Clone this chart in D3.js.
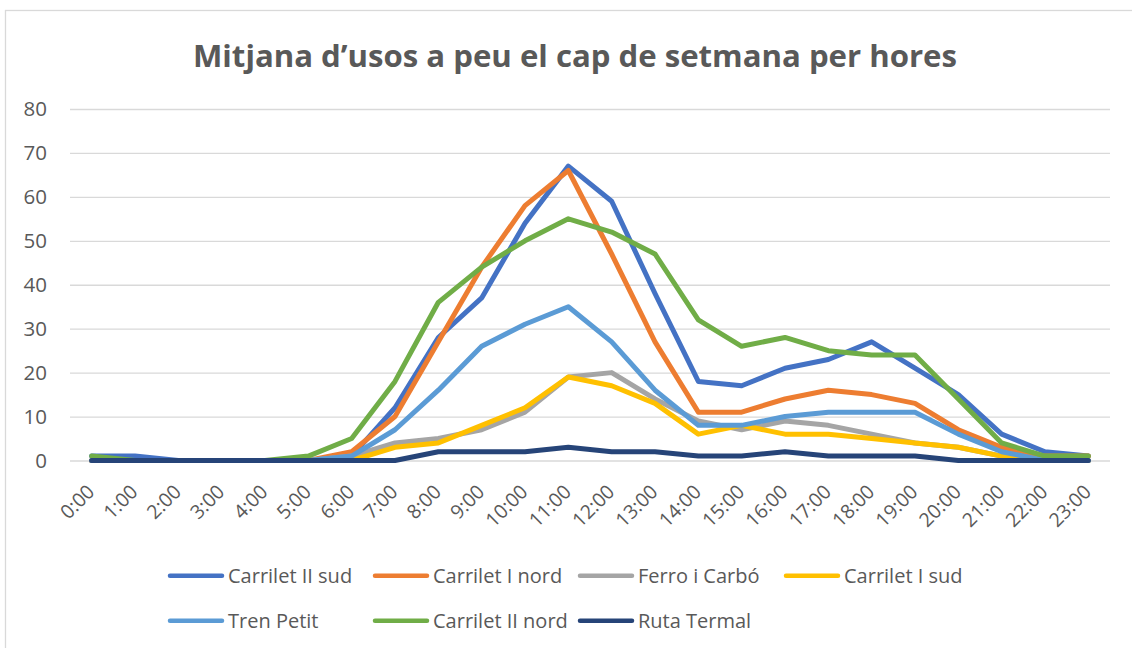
<!DOCTYPE html>
<html>
<head>
<meta charset="utf-8">
<script src="https://cdn.jsdelivr.net/npm/d3@7"></script>
<style>
  body { margin: 0; background: #fff; }
  text { font-family: 'Open Sans', sans-serif; fill: #595959; }
</style>
</head>
<body>
<svg id="chart" width="1132" height="648"></svg>
<script>
// hours on the x axis
var hours = ['0:00','1:00','2:00','3:00','4:00','5:00','6:00','7:00','8:00','9:00','10:00','11:00',
             '12:00','13:00','14:00','15:00','16:00','17:00','18:00','19:00','20:00','21:00','22:00','23:00'];

var carriletIISud  = [1,1,0,0,0,0,1,12,28,37,54,67,59,38,18,17,21,23,27,21,15,6,2,1];
var carriletINord  = [0,0,0,0,0,0,2,10,27,44,58,66,47,27,11,11,14,16,15,13,7,3,1,1];
var ferroICarbo    = [0,0,0,0,0,0,1,4,5,7,11,19,20,14,9,7,9,8,6,4,3,1,0,0];
var carriletISud   = [0,0,0,0,0,0,0,3,4,8,12,19,17,13,6,8,6,6,5,4,3,1,0,0];
var trenPetit      = [0,0,0,0,0,0,1,7,16,26,31,35,27,16,8,8,10,11,11,11,6,2,0,0];
var carriletIINord = [1,0,0,0,0,1,5,18,36,44,50,55,52,47,32,26,28,25,24,24,14,4,1,1];
var rutaTermal     = [0,0,0,0,0,0,0,0,2,2,2,3,2,2,1,1,2,1,1,1,0,0,0,0];

var seriesNames = ['Carrilet II sud','Carrilet I nord','Ferro i Carbó','Carrilet I sud',
                   'Tren Petit','Carrilet II nord','Ruta Termal'];
var seriesColors = ['#4472C4','#ED7D31','#A5A5A5','#FFC000','#5B9BD5','#70AD47','#264478'];
var yTicks = [0,10,20,30,40,50,60,70,80];

var series = [carriletIISud, carriletINord, ferroICarbo, carriletISud, trenPetit, carriletIINord, rutaTermal]
  .map(function(v, i) { return {name: seriesNames[i], color: seriesColors[i], values: v}; });

var svg = d3.select('#chart');

var plot_left = 70, plot_right = 1110, plot_top = 109, plot_bottom = 460.5;

// chart border
svg.append('rect')
  .attr('x', 5.5).attr('y', 10.5)
  .attr('width', 1150).attr('height', 660)
  .attr('fill', 'none')
  .attr('stroke', '#d9d9d9')
  .attr('stroke-width', 1.3);

var x = d3.scalePoint()
  .domain(hours)
  .range([plot_left, plot_right])
  .padding(0.5);

var y = d3.scaleLinear()
  .domain([0, 80])
  .range([plot_bottom, plot_top]);

// y axis + gridlines
var yaxis = svg.append('g')
  .attr('class', 'y_axis')
  .attr('transform', 'translate(' + plot_left + ',0)')
  .call(d3.axisLeft(y).tickValues(yTicks).tickSize(-(plot_right - plot_left)).tickPadding(23));
yaxis.select('.domain').remove();
yaxis.selectAll('line').attr('stroke', '#d9d9d9').attr('stroke-width', 1.3);
yaxis.selectAll('text')
  .style('font-size', '20.5px')
  .style('font-family', "'Open Sans', sans-serif")
  .attr('fill', '#595959');

// x axis labels, rotated
var xaxis = svg.append('g')
  .attr('class', 'x_axis')
  .attr('transform', 'translate(0,' + plot_bottom + ')')
  .call(d3.axisBottom(x).tickSize(0));
xaxis.select('.domain').remove();
xaxis.selectAll('text')
  .attr('x', 0).attr('y', 0).attr('dy', 0)
  .attr('transform', 'translate(3.5,32.5) rotate(-45)')
  .style('text-anchor', 'end')
  .style('font-size', '19.5px')
  .style('font-family', "'Open Sans', sans-serif")
  .attr('fill', '#595959');

// lines
var line = d3.line()
  .x(function(d, i) { return x(hours[i]); })
  .y(function(d) { return y(d); });

svg.append('g')
  .attr('class', 'lines')
  .selectAll('path')
  .data(series)
  .enter().append('path')
  .attr('d', function(d) { return line(d.values); })
  .attr('fill', 'none')
  .attr('stroke', function(d) { return d.color; })
  .attr('stroke-width', 5)
  .attr('stroke-linejoin', 'round')
  .attr('stroke-linecap', 'round');

// legend: 4 columns, 2 rows
var leg_cols = [168, 373, 578, 784];
var leg_rows = [575.7, 620.7];

var legend = svg.append('g')
  .attr('class', 'legend')
  .selectAll('g')
  .data(series)
  .enter().append('g')
  .attr('transform', function(d, i) {
    return 'translate(' + leg_cols[i % 4] + ',' + leg_rows[Math.floor(i / 4)] + ')';
  });

legend.append('line')
  .attr('x1', 2).attr('x2', 54)
  .attr('y1', 0).attr('y2', 0)
  .attr('stroke', function(d) { return d.color; })
  .attr('stroke-width', 4.5)
  .attr('stroke-linecap', 'round');

legend.append('text')
  .attr('x', 60)
  .attr('y', 0)
  .attr('dy', '0.35em')
  .style('font-size', '20px')
  .text(function(d) { return d.name; });

// title, squeezed to the width of the original
var title = svg.append('text')
  .attr('class', 'titletext')
  .attr('x', 575)
  .attr('y', 66.5)
  .attr('text-anchor', 'middle')
  .style('font-size', '31.2px')
  .style('font-weight', 'bold')
  .text('Mitjana d’usos a peu el cap de setmana per hores');

if (title.node().getComputedTextLength() > 764) {
  title.attr('textLength', 764).attr('lengthAdjust', 'spacingAndGlyphs');
}
</script>
</body>
</html>
